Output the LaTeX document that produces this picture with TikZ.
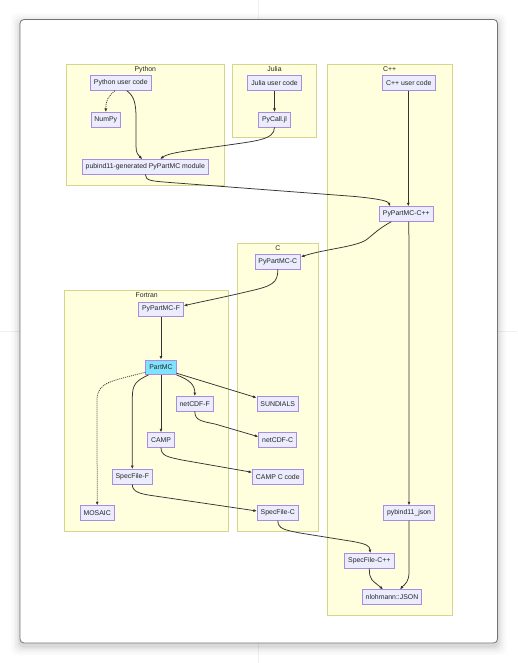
\documentclass[tikz,border=0pt]{standalone}
\usepackage{fontspec}
\setmainfont{Liberation Sans}
\usetikzlibrary{arrows.meta}
\definecolor{nodefill}{HTML}{ECECFF}
\definecolor{nodedraw}{HTML}{A68CE2}
\definecolor{clfill}{HTML}{FFFFDE}
\definecolor{cldraw}{HTML}{D6D68A}
\definecolor{edgecol}{HTML}{333333}
\definecolor{partfill}{HTML}{7FE3FF}
\tikzset{
  box/.style={draw=nodedraw, fill=nodefill, line width=0.7pt, inner xsep=3.5pt, inner ysep=0pt,
    minimum height=14.7pt, font=\fontsize{6.9}{8}\selectfont, text=black!85},
  cluster/.style={draw=cldraw, fill=clfill, line width=0.7pt},
  cltitle/.style={font=\fontsize{6.9}{8}\selectfont, text=black!85, anchor=center},
  edge/.style={draw=edgecol, line width=0.75pt, -{Latex[length=3.5pt,width=3pt]}},
  dotedge/.style={edge, dash pattern=on 1pt off 1pt},
}
\begin{document}
\begin{tikzpicture}[x=1pt,y=-1pt]
\useasboundingbox (0,0) rectangle (517,663);
% background faint lines
\draw[black!6, line width=0.6pt] (258,0) -- (258,20) (258,643) -- (258,663)
  (0,331) -- (20,331) (497,331) -- (517,331);
% frame shadow
\foreach \i/\o in {9/0.015,7/0.02,5/0.03,3/0.04,1.5/0.05}{
  \fill[black, opacity=\o, rounded corners=6pt] (20-\i,19.5-\i+3) rectangle (497.5+\i,643+\i+3);
}
\draw[fill=white, draw=black!55, line width=0.8pt, rounded corners=4pt] (20,19.5) rectangle (497.5,643);
% clusters
\draw[cluster] (66.7,64.3) rectangle (224,185);
\node[cltitle] (tpy) at (145.3,69.3) {Python};
\draw[cluster] (232.3,64.3) rectangle (316.3,137.3);
\node[cltitle] (tju) at (274.5,69.3) {Julia};
\draw[cluster] (327,64.3) rectangle (452.3,615);
\node[cltitle] (tcpp) at (389.7,69.3) {C++};
\draw[cluster] (237,243.3) rectangle (318.7,531.3);
\node[cltitle] (tc) at (277.8,248) {C};
\draw[cluster] (64.7,290.3) rectangle (228.7,531.3);
\node[cltitle] (tf) at (146.7,295.2) {Fortran};
% nodes
\node[box] (pyuser) at (120.8,83) {Python user code};
\node[box] (numpy) at (105.8,119.7) {NumPy};
\node[box] (pubind) at (145.3,166.8) {pubind11-generated PyPartMC module};
\node[box] (juser) at (274.5,83) {Julia user code};
\node[box] (pycall) at (274.5,119.7) {PyCall.jl};
\node[box] (cuser) at (408.8,83) {C++ user code};
\node[box] (pypcpp) at (406.3,214) {PyPartMC-C++};
\node[box] (pybjson) at (409,513) {pybind11\_json};
\node[box] (specpp) at (369.3,560.8) {SpecFile-C++};
\node[box] (nlo) at (392,597) {nlohmann::JSON};
\node[box] (pyc) at (277.8,261.8) {PyPartMC-C};
\node[box] (sundials) at (277.7,403.7) {SUNDIALS};
\node[box] (ncc) at (277.7,440) {netCDF-C};
\node[box] (campc) at (277.8,476.8) {CAMP C code};
\node[box] (specc) at (277.8,513) {SpecFile-C};
\node[box] (pypf) at (161,309.2) {PyPartMC-F};
\node[box, fill=partfill] (partmc) at (161,367.2) {PartMC};
\node[box] (ncf) at (194.8,403.7) {netCDF-F};
\node[box] (camp) at (161,440) {CAMP};
\node[box] (specf) at (132.3,476.8) {SpecFile-F};
\node[box] (mosaic) at (97.2,513) {MOSAIC};
% edges
\draw[dotedge] ([xshift=-6pt]pyuser.south) .. controls (108,97) and (105.8,100) .. (numpy.north);
\draw[edge] ([xshift=6pt]pyuser.south) .. controls (134,96) and (136,103) .. (136,118) -- (136,146)
  .. controls (136,153) and (138,155) .. ([xshift=-3pt]pubind.north);
\draw[edge] (juser) -- (pycall);
\draw[edge] (pycall.south) .. controls (274.5,140) and (255,141) .. (225,145.5)
  .. controls (185,151) and (168,153) .. ([xshift=15pt]pubind.north);
\draw[edge] (pubind.south) .. controls (145.5,181) and (152,181) .. (170,182.5) -- (355,196.5)
  .. controls (380,199) and (388,201) .. ([xshift=-16pt]pypcpp.north);
\draw[edge] (cuser.south -| 408.3,0) -- (pypcpp.north -| 408.3,0);
\draw[edge] ([xshift=-15pt]pypcpp.south) .. controls (378,229) and (374,234) .. (366,240)
  .. controls (355,247) and (325,249) .. ([yshift=5pt]pyc.east);
\draw[edge] (pypcpp.south -| 408.8,0) .. controls (409,240) .. (409,260) -- (pybjson.north);
\draw[edge] (pyc.south) .. controls (278,283) and (272,286) .. (250,291)
  .. controls (225,297) and (200,302) .. ([yshift=3.5pt]pypf.east);
\draw[edge] (pypf) -- (partmc);
\draw[dotedge] ([yshift=-5pt]partmc.west) .. controls (112,381) and (97,382) .. (97,400) -- (mosaic.north);
\draw[edge] ([xshift=3pt]partmc.south west) .. controls (136,381) and (132.3,384) .. (132.3,398) -- (specf.north);
\draw[edge] (partmc) -- (camp);
\draw[edge] (partmc.south east) .. controls (190,380) and (194.8,385) .. (ncf.north);
\draw[edge] ([yshift=-6pt]partmc.east) -- ([yshift=6pt]sundials.west);
\draw[edge] (ncf.south) .. controls (195,420) and (200,421) .. (215,424) -- ([yshift=3.3pt]ncc.west);
\draw[edge] (camp.south) .. controls (161,456) and (168,457) .. (182,460) -- ([yshift=4.5pt]campc.west);
\draw[edge] (specf.south) .. controls (132.3,492) and (140,494) .. (155,496) -- ([yshift=2pt]specc.west);
\draw[edge] (specc.south) .. controls (278,529) and (285,530) .. (300,533) -- (350,541)
  .. controls (368,544) and (369.5,546) .. ([xshift=1pt]specpp.north);
\draw[edge] (specpp.south) .. controls (369.3,580) and (372,580) .. ([xshift=-9pt]nlo.north);
\draw[edge] (pybjson.south) -- (409,572) .. controls (409,582) and (405,584) .. ([xshift=8pt]nlo.north);
\end{tikzpicture}
\end{document}
